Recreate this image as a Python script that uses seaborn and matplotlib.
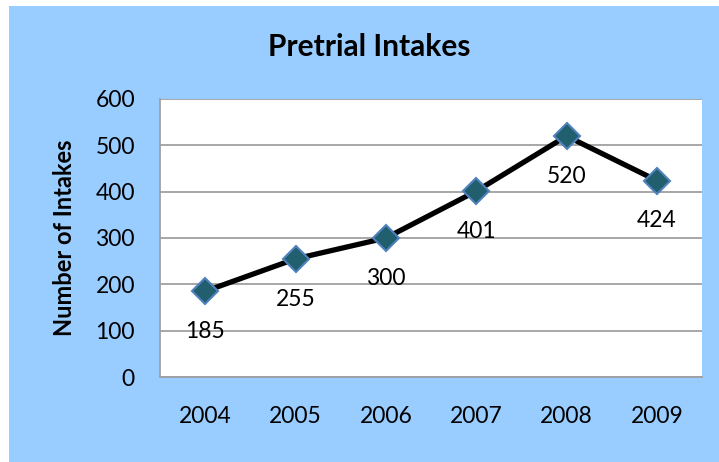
import matplotlib
matplotlib.use("Agg")
import matplotlib.pyplot as plt
import seaborn as sns
import pandas as pd
from matplotlib.patches import Rectangle

years = ["2004", "2005", "2006", "2007", "2008", "2009"]
intakes = [185, 255, 300, 401, 520, 424]
yticks = [0, 100, 200, 300, 400, 500, 600]

sns.set_theme(style="white")
plt.rcParams["font.family"] = ["Lato", "DejaVu Sans"]
plt.rcParams["text.color"] = "black"
plt.rcParams["axes.labelcolor"] = "black"

df = pd.DataFrame({"Year": years, "Intakes": intakes})

fig = plt.figure(figsize=(7.19, 4.62), dpi=100, facecolor="white")
fig.patches.append(Rectangle((9 / 719, 0), 1 - 9 / 719, 1 - 6 / 462,
                             transform=fig.transFigure, facecolor="#99CCFF",
                             edgecolor="none", zorder=-10))
ax = fig.add_axes([160 / 719, (462 - 377) / 462, (702 - 160) / 719, (377 - 99) / 462])
ax.set_facecolor("white")

sns.lineplot(data=df, x="Year", y="Intakes", ax=ax, color="black", linewidth=3.8,
             marker="D", markersize=13.5, markerfacecolor="#215E6E",
             markeredgecolor="#4F81BD", markeredgewidth=1.5, sort=False)

for i, v in enumerate(intakes):
    ax.annotate(str(v), (i, v), xytext=(0, -29), textcoords="offset points",
                ha="center", va="center", fontsize=16.5, color="black")

ax.set_xlim(-0.5, 5.5)
ax.set_ylim(0, 600)
ax.set_yticks(yticks)
ax.set_yticklabels([str(t) for t in yticks])
ax.grid(axis="y", color="#A0A0A0", linewidth=1.3)
ax.set_axisbelow(True)
for s in ["top", "right"]:
    ax.spines[s].set_visible(False)
for s in ["left", "bottom"]:
    ax.spines[s].set_color("#A0A0A0")
    ax.spines[s].set_linewidth(1.3)
ax.tick_params(axis="both", labelsize=16.5, colors="black", length=0)
ax.tick_params(axis="x", pad=21)
ax.tick_params(axis="y", pad=18)
ax.set_xlabel("")
ax.set_ylabel("Number of Intakes", fontsize=17, fontweight="bold", labelpad=14,
              color="black")
fig.text(369 / 719, 1 - 47 / 462, "Pretrial Intakes", ha="center", va="center",
         fontsize=21.5, fontweight="bold", color="black")

fig.savefig("out.png", dpi=100, facecolor=fig.get_facecolor())
